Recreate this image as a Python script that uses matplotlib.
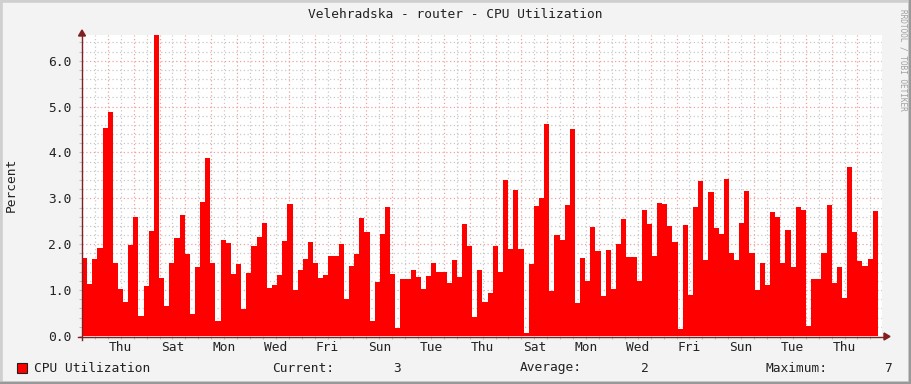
import numpy as np
import matplotlib
matplotlib.use("Agg")
import matplotlib.pyplot as plt
from matplotlib.patches import Polygon, Rectangle
from matplotlib.lines import Line2D

# CPU utilization, percent (one value per ~4.8h step)
cpu = [
    1.70, 1.13, 1.68, 1.92, 4.54, 4.89, 1.59, 1.03, 0.74, 1.99,
    2.60, 0.44, 1.09, 2.29, 6.55, 1.27, 0.65, 1.59, 2.14, 2.64,
    1.79, 0.48, 1.50, 2.92, 3.88, 1.59, 0.33, 2.09, 2.03, 1.35,
    1.57, 0.59, 1.37, 1.96, 2.16, 2.47, 1.05, 1.11, 1.33, 2.07,
    2.88, 1.00, 1.44, 1.68, 2.05, 1.59, 1.27, 1.33, 1.75, 1.75,
    2.01, 0.81, 1.53, 1.79, 2.57, 2.27, 0.33, 1.18, 2.23, 2.81,
    1.35, 0.17, 1.24, 1.24, 1.44, 1.29, 1.03, 1.31, 1.59, 1.40,
    1.40, 1.16, 1.66, 1.29, 2.44, 1.96, 0.41, 1.44, 0.74,
    0.93, 1.96, 1.40, 3.40, 1.90, 3.18, 1.90, 0.07, 1.57, 2.84,
    3.01, 4.63, 0.98, 2.20, 2.09, 2.86, 4.52, 0.72, 1.70, 1.20,
    2.38, 1.85, 0.87, 1.88, 1.03, 2.01, 2.55, 1.72, 1.72, 1.20,
    2.75, 2.44, 1.75, 2.90, 2.88, 2.40, 2.05, 0.15, 2.42,
    0.89, 2.81, 3.38, 1.66, 3.14, 2.36, 2.23, 3.43, 1.81, 1.66,
    2.47, 3.16, 1.81, 1.00, 1.59, 1.11, 2.71, 2.60, 1.59, 2.31,
    1.50, 2.81, 2.75, 0.22, 1.24, 1.24, 1.81, 2.86, 1.16, 1.50,
    0.83, 3.69, 2.27, 1.64, 1.53, 1.68, 2.73,
]
day_names = ["Wed", "Thu", "Fri", "Sat", "Sun", "Mon", "Tue"]
legend_stats = [("Current:", "3"), ("Average:", "2"), ("Maximum:", "7")]
title = "Velehradska - router - CPU Utilization"

W, H = 911, 384
fx = lambda px: px / W
fy = lambda py: 1 - py / H

mono = "DejaVu Sans Mono"
fs = 9.3
axis_col = "#802020"

fig = plt.figure(figsize=(W / 100, H / 100), dpi=100, facecolor="#f3f3f3")
# 3d-ish border
fig.patches.append(Rectangle((0, 0), 1, 1, transform=fig.transFigure, fill=False,
                             edgecolor="#cfcfcf", linewidth=4))
fig.add_artist(Line2D([fx(0), fx(W)], [fy(383), fy(383)], color="#999999", lw=2.5))
fig.add_artist(Line2D([fx(910), fx(910)], [fy(0), fy(H)], color="#999999", lw=2.5))

ax = fig.add_axes([fx(82), fy(336), fx(882) - fx(82), fy(35) - fy(336)])
ax.set_facecolor("white")

n = len(cpu)
step = 30.79 / n
edges = np.arange(n + 1) * step
ax.fill_between(edges, list(cpu) + [cpu[-1]], step="post", color="#ff0000", lw=0, zorder=2)

ax.set_xlim(0, 30.95)
ax.set_ylim(0, 6.56)

# grid: days (major), half-days (minor)
ax.set_xticks(np.arange(1, 31))
ax.set_xticks(np.arange(0.5, 31, 1.0), minor=True)
ax.set_yticks(np.arange(0, 7, 1.0))
ax.set_yticks(np.arange(0.2, 6.6, 0.2), minor=True)
ax.set_yticklabels(["%.1f" % v for v in np.arange(0, 7, 1.0)], fontfamily=mono, fontsize=fs)
ax.set_xticklabels([])
mlabels = []
for k in range(31):
    mlabels.append(day_names[k % 7] if k % 2 == 1 else "")
ax.set_xticklabels(mlabels, minor=True, fontfamily=mono, fontsize=fs)

ax.grid(which="major", color="#f0a0a0", linestyle=(0, (1, 2)), lw=0.9, zorder=0)
ax.grid(which="minor", color="#c8c8c8", linestyle=(0, (1, 2)), lw=0.9, zorder=0)
ax.set_axisbelow(True)
ax.tick_params(which="both", direction="out", length=2, width=0.8, color="#c0c0c0",
               labelcolor="#222222")
ax.tick_params(axis="y", which="both", pad=5.5)
ax.tick_params(axis="x", which="minor", pad=1.8)
for s in ax.spines.values():
    s.set_visible(False)

# axes with arrows
fig.add_artist(Line2D([fx(78), fx(884)], [fy(336.5), fy(336.5)], color=axis_col, lw=1))
fig.add_artist(Line2D([fx(82), fx(82)], [fy(340), fy(35)], color=axis_col, lw=1))
fig.patches.append(Polygon([(fx(884), fy(333)), (fx(890), fy(336.5)), (fx(884), fy(340))],
                           closed=True, transform=fig.transFigure, color=axis_col))
fig.patches.append(Polygon([(fx(78.5), fy(36)), (fx(82), fy(30)), (fx(85.5), fy(36))],
                           closed=True, transform=fig.transFigure, color=axis_col))

fig.text(fx(455), fy(14), title, ha="center", va="center", fontfamily=mono, fontsize=fs,
         color="#222222")
fig.text(fx(11), fy(185), "Percent", rotation=90, ha="center", va="center",
         fontfamily=mono, fontsize=fs, color="#222222")
fig.text(fx(903), fy(60), "RRDTOOL / TOBI OETIKER", rotation=270, ha="center", va="center",
         fontfamily=mono, fontsize=5.6, color="#a0a0a0")

# legend
fig.patches.append(Rectangle((fx(17), fy(373)), fx(10), fy(363) - fy(373),
                             transform=fig.transFigure, facecolor="#ff0000",
                             edgecolor="#202020", lw=0.8))
fig.text(fx(34), fy(368), "CPU Utilization", ha="left", va="center", fontfamily=mono,
         fontsize=fs, color="#222222")
for (lab, val), xl, xv in zip(legend_stats, [272, 520, 765], [401, 649, 892]):
    fig.text(fx(xl), fy(368), lab, ha="left", va="center", fontfamily=mono, fontsize=fs,
             color="#222222")
    fig.text(fx(xv), fy(368), val, ha="right", va="center", fontfamily=mono, fontsize=fs,
             color="#222222")

fig.savefig("out.png", dpi=100, facecolor=fig.get_facecolor())
